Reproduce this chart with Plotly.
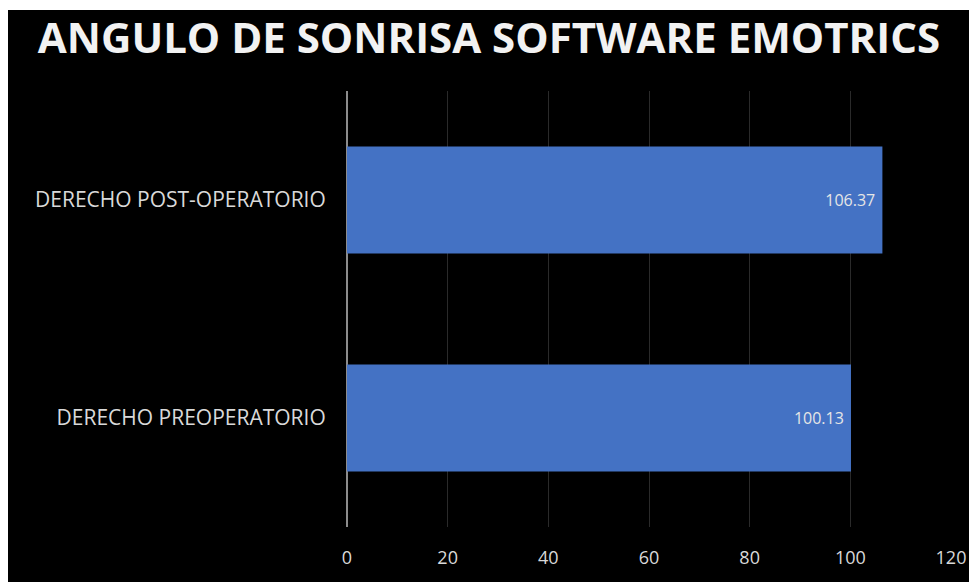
import plotly.graph_objects as go

categorias = ["DERECHO PREOPERATORIO", "DERECHO POST-OPERATORIO"]
angulos = [100.13, 106.37]
ticks_x = [0, 20, 40, 60, 80, 100, 120]

ANCHO, ALTO = 969, 582
M_IZQ, M_DER, M_SUP, M_INF = 347, 18, 91, 55
alto_plot = ALTO - M_SUP - M_INF
ancho_plot = ANCHO - M_IZQ - M_DER

fig = go.Figure()

fig.add_trace(go.Bar(
    x=angulos,
    y=categorias,
    orientation="h",
    marker=dict(color="#4472C4", line=dict(width=0)),
    text=[f"{v:.2f}\u00a0" for v in angulos],
    textposition="inside",
    insidetextanchor="end",
    textfont=dict(family="Open Sans", size=16, color="#E6E6E6"),
))

# bordes blancos del recorte original: 10 px arriba, 8 px a la izquierda
fig.add_shape(type="rect", xref="paper", yref="paper",
              x0=-1, x1=1.2, y0=1 + (M_SUP - 10) / alto_plot, y1=1.5,
              fillcolor="white", line=dict(width=0), layer="above")
fig.add_shape(type="rect", xref="paper", yref="paper",
              x0=-1, x1=-(M_IZQ - 8) / ancho_plot, y0=-0.5, y1=1.5,
              fillcolor="white", line=dict(width=0), layer="above")

fig.update_layout(
    title=dict(
        text="<b>ANGULO DE SONRISA SOFTWARE EMOTRICS</b>",
        x=489 / ANCHO, xref="container", xanchor="center",
        y=1 - 38 / ALTO, yref="container", yanchor="middle",
        font=dict(family="Open Sans", size=42, color="#F2F2F2"),
    ),
    paper_bgcolor="black",
    plot_bgcolor="black",
    showlegend=False,
    bargap=0.51,
    width=ANCHO,
    height=ALTO,
    margin=dict(l=M_IZQ, r=M_DER, t=M_SUP, b=M_INF, autoexpand=False),
    xaxis=dict(
        range=[0, 120],
        tickvals=ticks_x,
        automargin=False,
        ticklabeloverflow="allow",
        showgrid=True,
        gridcolor="#2A2A2A",
        gridwidth=1,
        zeroline=True,
        zerolinecolor="#8C8C8C",
        zerolinewidth=2,
        showline=False,
        ticks="outside",
        ticklen=14,
        tickcolor="black",
        tickfont=dict(family="Open Sans", size=18, color="#D9D9D9"),
        fixedrange=True,
    ),
    yaxis=dict(
        automargin=False,
        showgrid=False,
        showline=False,
        zeroline=False,
        ticks="outside",
        ticklen=16,
        tickcolor="black",
        tickfont=dict(family="Open Sans", size=21, color="#D9D9D9"),
        fixedrange=True,
    ),
)

# la figura ocupa toda la ventana, sin margen del body ni barras
fig.write_html(
    "out.html",
    config={"displayModeBar": False},
    post_script="document.body.style.margin = '0'; "
                "document.body.style.overflow = 'hidden';",
)
